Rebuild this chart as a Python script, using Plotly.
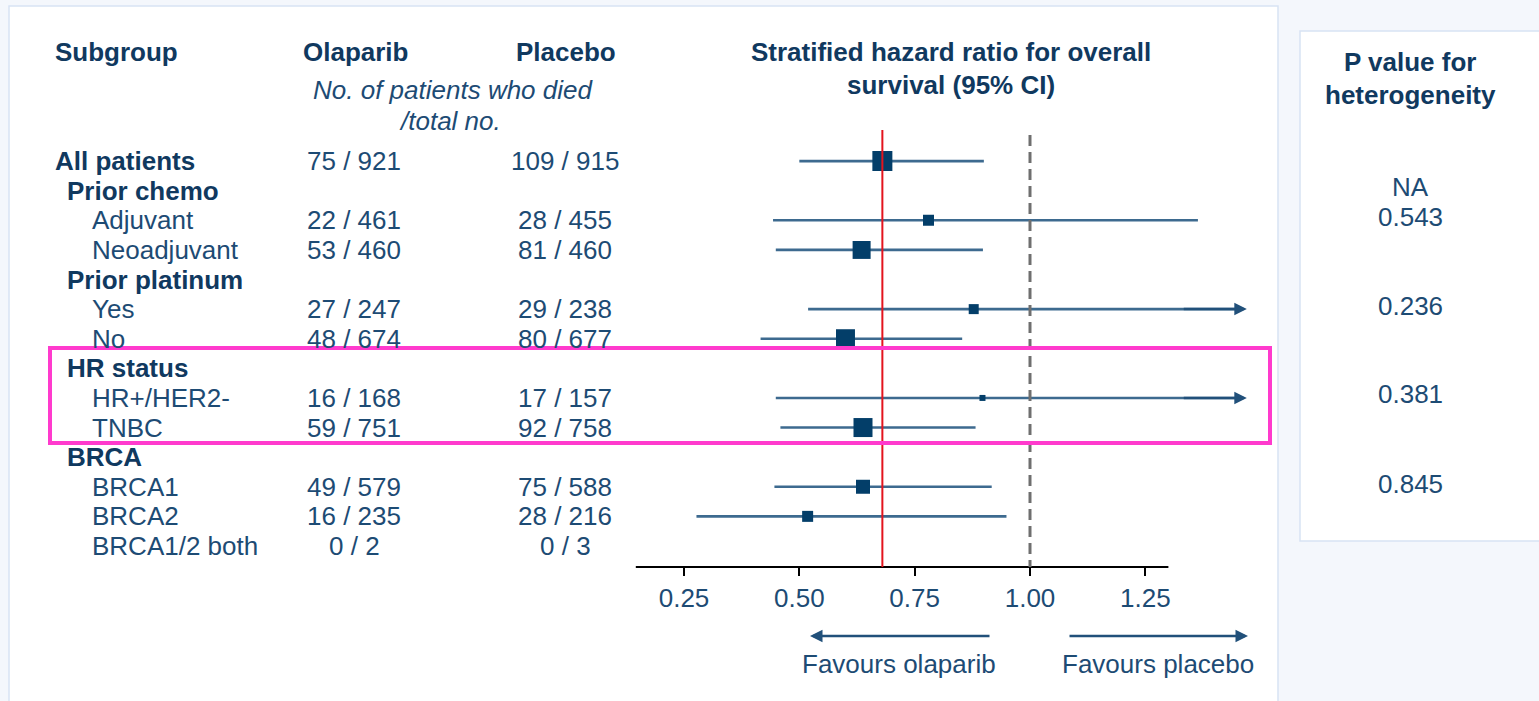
import plotly.graph_objects as go

# ---- data -------------------------------------------------------------
subgroups = ["All patients", "Prior chemo", "Adjuvant", "Neoadjuvant",
             "Prior platinum", "Yes", "No", "HR status", "HR+/HER2-", "TNBC",
             "BRCA", "BRCA1", "BRCA2", "BRCA1/2 both"]
levels = [0, 1, 2, 2, 1, 2, 2, 1, 2, 2, 1, 2, 2, 2]

ola_died = [75, None, 22, 53, None, 27, 48, None, 16, 59, None, 49, 16, 0]
ola_total = [921, None, 461, 460, None, 247, 674, None, 168, 751, None, 579, 235, 2]
pla_died = [109, None, 28, 81, None, 29, 80, None, 17, 92, None, 75, 28, 0]
pla_total = [915, None, 455, 460, None, 238, 677, None, 157, 758, None, 588, 216, 3]

hr = [0.68, None, 0.78, 0.635, None, 0.878, 0.60, None, 0.897, 0.638, None, 0.638, 0.518, None]
ci_lo = [0.50, None, 0.443, 0.449, None, 0.519, 0.416, None, 0.449, 0.459, None, 0.446, 0.277, None]
ci_hi = [0.90, None, 1.364, 0.898, None, 1.50, 0.853, None, 1.50, 0.882, None, 0.917, 0.949, None]

p_het = ["NA", "0.543", "0.236", "0.381", "0.845"]

tick_vals = [0.25, 0.50, 0.75, 1.00, 1.25]
tick_text = ["0.25", "0.50", "0.75", "1.00", "1.25"]

# ---- styling ----------------------------------------------------------
W, H = 1539, 701
FONT = "Arial, Liberation Sans, sans-serif"
FS = 26
C_BOLD = "#10395f"
C_TEXT = "#1d4b74"
C_LINE = "#3d6a8f"
C_BOX = "#033e69"
box_px = [20, 0, 11, 18, 0, 10, 19, 0, 6, 19, 0, 14, 11, 0]
indent_px = {0: 55, 1: 67, 2: 92}
clip_hi = 1.47          # right end of the truncation arrows
arrow_from = 1.33
axis_lo, axis_hi = 0.145, 1.30
p_rows_px = [187, 217, 306, 394, 484]


def fx(x):
    return x / W


def fy(y):
    return 1 - y / H


fig = go.Figure()

# confidence interval lines
xs, ys = [], []
for i, (lo, hi_) in enumerate(zip(ci_lo, ci_hi)):
    if lo is None:
        continue
    xs += [lo, min(hi_, clip_hi - 0.02), None]
    ys += [i, i, None]
fig.add_trace(go.Scatter(x=xs, y=ys, mode="lines",
                         line=dict(color=C_LINE, width=2.6),
                         hoverinfo="skip", showlegend=False))

# point estimates
pts = [(i, v, s) for i, (v, s) in enumerate(zip(hr, box_px)) if v is not None]
fig.add_trace(go.Scatter(x=[p[1] for p in pts], y=[p[0] for p in pts],
                         mode="markers",
                         marker=dict(symbol="square", size=[p[2] for p in pts],
                                     color=C_BOX, opacity=1, line=dict(width=0)),
                         showlegend=False))

shapes = []
annotations = []

# page panels
shapes.append(dict(type="rect", xref="paper", yref="paper", layer="below",
                   x0=fx(9), x1=fx(1278), y0=fy(712), y1=fy(6),
                   fillcolor="white", line=dict(color="#d8e3f4", width=1.5)))
shapes.append(dict(type="rect", xref="paper", yref="paper", layer="below",
                   x0=fx(1300), x1=fx(1550), y0=fy(541), y1=fy(31),
                   fillcolor="white", line=dict(color="#d8e3f4", width=1.5)))

# axis line
shapes.append(dict(type="line", xref="x", yref="paper", x0=axis_lo, x1=axis_hi,
                   y0=fy(567), y1=fy(567), line=dict(color="black", width=2)))
# overall HR reference line and null line
shapes.append(dict(type="line", xref="x", yref="y", x0=hr[0], x1=hr[0],
                   y0=-1.05, y1=13.71, line=dict(color="#e3141e", width=2)))
shapes.append(dict(type="line", xref="x", yref="y", x0=1.0, x1=1.0,
                   y0=-0.88, y1=13.71,
                   line=dict(color="#6f6f6f", width=3, dash="11px,6px")))

# highlight box
shapes.append(dict(type="rect", xref="paper", yref="paper",
                   x0=fx(50), x1=fx(1270), y0=fy(443), y1=fy(348),
                   line=dict(color="#ff3acd", width=4)))

# truncation arrows
for i, hi_ in enumerate(ci_hi):
    if hi_ is not None and hi_ > clip_hi:
        annotations.append(dict(x=clip_hi, y=i, xref="x", yref="y",
                                ax=arrow_from, ay=i, axref="x", ayref="y",
                                showarrow=True, arrowhead=2, arrowsize=1,
                                arrowwidth=2.5, arrowcolor="#21507a", text=""))


def txt(x, y, s, bold=False, italic=False, anchor="left", yref="paper",
        color=None, size=FS):
    if bold:
        s = "<b>" + s + "</b>"
    if italic:
        s = "<i>" + s + "</i>"
    annotations.append(dict(x=x, y=y, xref="paper", yref=yref, text=s,
                            showarrow=False, xanchor=anchor, yanchor="middle",
                            font=dict(family=FONT, size=size,
                                      color=color or (C_BOLD if bold else C_TEXT))))


# column headers
txt(fx(53), fy(52), "Subgroup", bold=True)
txt(fx(355), fy(52), "Olaparib", bold=True, anchor="center")
txt(fx(566), fy(52), "Placebo", bold=True, anchor="center")
txt(fx(453), fy(90), "No. of patients who died", italic=True, anchor="center")
txt(fx(450), fy(121), "/total no.", italic=True, anchor="center")
txt(fx(951), fy(52), "Stratified hazard ratio for overall", bold=True, anchor="center")
txt(fx(951), fy(85), "survival (95% CI)", bold=True, anchor="center")
txt(fx(1410), fy(62), "P value for", bold=True, anchor="center")
txt(fx(1410), fy(95), "heterogeneity", bold=True, anchor="center")

# subgroup rows
for i, name in enumerate(subgroups):
    lvl = levels[i]
    txt(fx(indent_px[lvl] - 2), i, name, bold=(lvl < 2), yref="y")
    if ola_died[i] is not None:
        txt(fx(354), i, f"{ola_died[i]} / {ola_total[i]}", anchor="center", yref="y")
        txt(fx(565), i, f"{pla_died[i]} / {pla_total[i]}", anchor="center", yref="y")

# heterogeneity p values
for p, ypx in zip(p_het, p_rows_px):
    txt(fx(1410), fy(ypx), p, anchor="center")

# direction arrows
annotations.append(dict(x=fx(810), y=fy(636), xref="paper", yref="paper",
                        ax=181, ay=0, showarrow=True, arrowhead=2, arrowsize=1,
                        arrowwidth=2.5, arrowcolor="#21507a", text=""))
annotations.append(dict(x=fx(1248), y=fy(636), xref="paper", yref="paper",
                        ax=-180, ay=0, showarrow=True, arrowhead=2, arrowsize=1,
                        arrowwidth=2.5, arrowcolor="#21507a", text=""))
txt(fx(899), fy(664), "Favours olaparib", anchor="center")
txt(fx(1158), fy(664), "Favours placebo", anchor="center")

x_left_px = 684 - (0.25 - 0.145) * 461.33
x_right_px = 684 + (1.50 - 0.25) * 461.33

fig.update_layout(
    width=W, height=H,
    margin=dict(l=0, r=0, t=0, b=0),
    paper_bgcolor="#f4f7fc",
    plot_bgcolor="rgba(0,0,0,0)",
    shapes=shapes,
    annotations=annotations,
    xaxis=dict(domain=[fx(x_left_px), fx(x_right_px)], range=[0.145, 1.50],
               showgrid=False, zeroline=False, showline=False,
               tickvals=tick_vals, ticktext=tick_text, ticks="outside",
               ticklen=8, tickwidth=2, tickcolor="black",
               tickfont=dict(family=FONT, size=FS, color=C_TEXT)),
    yaxis=dict(domain=[fy(567), fy(130)], range=[13.71, -1.05],
               showgrid=False, zeroline=False, showline=False,
               showticklabels=False, ticks=""),
)

fig.write_html("out.html")
